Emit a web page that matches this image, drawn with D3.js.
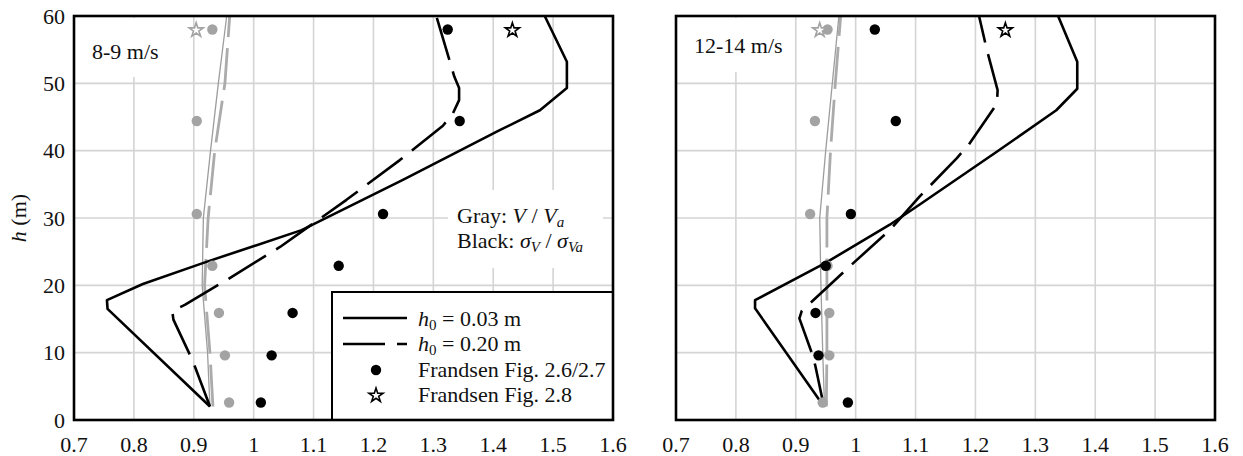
<!DOCTYPE html>
<html>
<head>
<meta charset="utf-8">
<script src="https://cdn.jsdelivr.net/npm/d3@7"></script>
<style>
  html, body { margin: 0; padding: 0; background: #fff; }
  svg { display: block; }
  text { font-family: "Liberation Serif", Tinos, "DejaVu Serif", serif; }
</style>
</head>
<body>
<svg id="chart" width="1243" height="456" font-family="Liberation Serif, Tinos, DejaVu Serif, serif"></svg>
<script>
// ---- axis ticks ----
const xTicks = [0.7, 0.8, 0.9, 1.0, 1.1, 1.2, 1.3, 1.4, 1.5, 1.6];
const xTickLabels = ["0.7", "0.8", "0.9", "1", "1.1", "1.2", "1.3", "1.4", "1.5", "1.6"];
const yTicks = [0, 10, 20, 30, 40, 50, 60];
const yTickLabels = ["0", "10", "20", "30", "40", "50", "60"];

// ---- Frandsen measurement heights (m) ----
const frandsenHeights = [2.6, 9.6, 15.9, 22.9, 30.6, 44.4, 58.0];
const frandsenStarHeight = 57.9;

// ---- 8-9 m/s ----
const lowFrandsenV = [0.959, 0.952, 0.942, 0.931, 0.905, 0.905, 0.931];
const lowFrandsenSigma = [1.012, 1.030, 1.065, 1.142, 1.216, 1.344, 1.324];
const lowStarV = 0.904;
const lowStarSigma = 1.432;

const lowSigmaH003_h = [2, 16.5, 17.8, 20.2, 23.3, 28.2, 35.7, 43.0, 46.0, 49.3, 53.2, 60];
const lowSigmaH003_v = [0.927, 0.756, 0.755, 0.815, 0.915, 1.080, 1.250, 1.410, 1.478, 1.523, 1.523, 1.486];
const lowSigmaH020_h = [2, 7.9, 9.6, 14.9, 16.2, 17.1, 20.8, 25.7, 32.7, 38.6, 43.7, 45.6, 47.5, 49.3, 51.0, 60];
const lowSigmaH020_v = [0.927, 0.902, 0.894, 0.866, 0.864, 0.885, 0.955, 1.044, 1.155, 1.244, 1.316, 1.333, 1.343, 1.343, 1.335, 1.305];
const lowMeanH003_h = [2, 10, 20, 30, 40, 50, 60];
const lowMeanH003_v = [0.927, 0.923, 0.914, 0.916, 0.928, 0.941, 0.955];
const lowMeanH020_h = [2, 10, 20, 30, 40, 50, 60];
const lowMeanH020_v = [0.932, 0.927, 0.918, 0.924, 0.935, 0.952, 0.960];

// ---- 12-14 m/s ----
const highFrandsenV = [0.945, 0.956, 0.956, 0.953, 0.924, 0.932, 0.953];
const highFrandsenSigma = [0.987, 0.938, 0.933, 0.950, 0.992, 1.067, 1.032];
const highStarV = 0.940;
const highStarSigma = 1.250;

const highSigmaH003_h = [2, 16.6, 17.8, 23.3, 29.0, 32.0, 39.8, 46.0, 49.2, 53.2, 60];
const highSigmaH003_v = [0.947, 0.832, 0.832, 0.949, 1.057, 1.107, 1.235, 1.335, 1.370, 1.370, 1.338];
const highSigmaH020_h = [2, 7.9, 9.4, 15.1, 16.2, 17.6, 23.3, 28.2, 33.2, 38.9, 40.8, 47.0, 49.0, 55.0, 60];
const highSigmaH020_v = [0.947, 0.933, 0.929, 0.906, 0.910, 0.927, 0.996, 1.057, 1.107, 1.169, 1.188, 1.236, 1.237, 1.219, 1.206];
const highMeanH003_h = [2, 10, 20, 30, 40, 50, 60];
const highMeanH003_v = [0.948, 0.945, 0.942, 0.940, 0.950, 0.961, 0.972];
const highMeanH020_h = [2, 10, 20, 30, 40, 50, 60];
const highMeanH020_v = [0.951, 0.952, 0.952, 0.952, 0.958, 0.966, 0.975];

// ---- legend ----
const legendLabels = ["0.03 m", "0.20 m", "Frandsen Fig. 2.6/2.7", "Frandsen Fig. 2.8"];

// ---- styling ----
const GRID = "#d4d4d4";
const GRAY_DOT = "#a3a3a3";
const GRAY_LINE = "#9d9d9d";
const GRAY_DASH = "#ababab";
const DASH = "44,12";
const FONT = 22;
const SERIF = "Liberation Serif, Tinos, DejaVu Serif, serif";

const pairs = (hs, vs) => hs.map((h, i) => ({ h, v: vs[i] }));

const panels = [
  {
    x0: 74, title: "8-9 m/s", titleBox: [76, 18, 96, 59], yLabels: true,
    meanSolid: pairs(lowMeanH003_h, lowMeanH003_v),
    meanDash: pairs(lowMeanH020_h, lowMeanH020_v),
    sigmaSolid: pairs(lowSigmaH003_h, lowSigmaH003_v),
    sigmaDash: pairs(lowSigmaH020_h, lowSigmaH020_v),
    fV: lowFrandsenV, fS: lowFrandsenSigma, starV: lowStarV, starS: lowStarSigma,
    note: true, legend: true
  },
  {
    x0: 676, title: "12-14 m/s", titleBox: [678, 18, 110, 54], yLabels: false,
    meanSolid: pairs(highMeanH003_h, highMeanH003_v),
    meanDash: pairs(highMeanH020_h, highMeanH020_v),
    sigmaSolid: pairs(highSigmaH003_h, highSigmaH003_v),
    sigmaDash: pairs(highSigmaH020_h, highSigmaH020_v),
    fV: highFrandsenV, fS: highFrandsenSigma, starV: highStarV, starS: highStarSigma,
    note: false, legend: false
  }
];

const W = 539, TOP = 16, BOTTOM = 420;
const svg = d3.select("#chart");
const star = d3.symbol().type(d3.symbolStar).size(62);

function label(g, xPos, yPos) {
  return g.append("text").attr("x", xPos).attr("y", yPos)
    .attr("font-family", SERIF).attr("font-size", FONT).attr("fill", "#111");
}

panels.forEach((p, pi) => {
  const x = d3.scaleLinear().domain([0.7, 1.6]).range([p.x0, p.x0 + W]);
  const y = d3.scaleLinear().domain([0, 60]).range([BOTTOM, TOP]);
  const g = svg.append("g");

  // grid
  g.selectAll(".vg").data(xTicks.slice(1, -1)).join("line")
    .attr("x1", d => x(d)).attr("x2", d => x(d)).attr("y1", TOP).attr("y2", BOTTOM)
    .attr("stroke", GRID).attr("stroke-width", 1.6);
  g.selectAll(".hg").data(yTicks.slice(1, -1)).join("line")
    .attr("x1", p.x0).attr("x2", p.x0 + W).attr("y1", d => y(d)).attr("y2", d => y(d))
    .attr("stroke", GRID).attr("stroke-width", 1.6);

  // title with white backing
  g.append("rect").attr("x", p.titleBox[0]).attr("y", p.titleBox[1])
    .attr("width", p.titleBox[2]).attr("height", p.titleBox[3]).attr("fill", "#fff");
  label(g, p.x0 + 18, pi === 0 ? 59 : 53).text(p.title);

  // note on which colour is which quantity
  if (p.note) {
    g.append("rect").attr("x", 448).attr("y", 190).attr("width", 155).attr("height", 78).attr("fill", "#fff");
    const t1 = label(g, 457, 223);
    t1.append("tspan").text("Gray: ");
    t1.append("tspan").attr("font-style", "italic").text("V");
    t1.append("tspan").text(" / ");
    t1.append("tspan").attr("font-style", "italic").text("V");
    t1.append("tspan").attr("font-style", "italic").attr("font-size", 15).attr("dy", 4).text("a");
    const t2 = label(g, 457, 248);
    t2.append("tspan").text("Black: ");
    t2.append("tspan").attr("font-style", "italic").text("σ");
    t2.append("tspan").attr("font-style", "italic").attr("font-size", 15).attr("dy", 4).text("V");
    t2.append("tspan").attr("dy", -4).text(" / ");
    t2.append("tspan").attr("font-style", "italic").text("σ");
    t2.append("tspan").attr("font-style", "italic").attr("font-size", 15).attr("dy", 4).text("Va");
  }

  const line = d3.line().x(d => x(d.v)).y(d => y(d.h));

  // wind speed ratio (gray)
  g.append("path").attr("d", line(p.meanDash)).attr("fill", "none")
    .attr("stroke", GRAY_DASH).attr("stroke-width", 2.8).attr("stroke-dasharray", "42,11");
  g.append("path").attr("d", line(p.meanSolid)).attr("fill", "none")
    .attr("stroke", GRAY_LINE).attr("stroke-width", 1.3);

  // standard deviation ratio (black)
  g.append("path").attr("d", line(p.sigmaDash)).attr("fill", "none")
    .attr("stroke", "#000").attr("stroke-width", 2.6).attr("stroke-dasharray", DASH)
    .attr("stroke-linejoin", "round");
  g.append("path").attr("d", line(p.sigmaSolid)).attr("fill", "none")
    .attr("stroke", "#000").attr("stroke-width", 2.6).attr("stroke-linejoin", "round");

  // Frandsen points
  g.selectAll(".gd").data(frandsenHeights).join("circle")
    .attr("cx", (d, i) => x(p.fV[i])).attr("cy", d => y(d)).attr("r", 5.2).attr("fill", GRAY_DOT);
  g.selectAll(".bd").data(frandsenHeights).join("circle")
    .attr("cx", (d, i) => x(p.fS[i])).attr("cy", d => y(d)).attr("r", 5.2).attr("fill", "#000");
  g.append("path").attr("d", star())
    .attr("transform", `translate(${x(p.starV)},${y(frandsenStarHeight)})`)
    .attr("fill", "#fff").attr("stroke", GRAY_DOT).attr("stroke-width", 1.6);
  g.append("path").attr("d", star())
    .attr("transform", `translate(${x(p.starS)},${y(frandsenStarHeight)})`)
    .attr("fill", "#fff").attr("stroke", "#000").attr("stroke-width", 1.6);

  // legend
  if (p.legend) {
    const lx = 332, ly = 292;
    g.append("rect").attr("x", lx).attr("y", ly).attr("width", p.x0 + W - lx).attr("height", BOTTOM - ly)
      .attr("fill", "#fff").attr("stroke", "#000").attr("stroke-width", 2);
    const rowY = [318, 344, 370, 395.5];
    const baseY = [325.5, 351, 376.5, 402];
    g.append("line").attr("x1", 343).attr("x2", 407).attr("y1", rowY[0]).attr("y2", rowY[0])
      .attr("stroke", "#000").attr("stroke-width", 2.6);
    g.append("line").attr("x1", 343).attr("x2", 407).attr("y1", rowY[1]).attr("y2", rowY[1])
      .attr("stroke", "#000").attr("stroke-width", 2.6).attr("stroke-dasharray", "42,12");
    g.append("circle").attr("cx", 376).attr("cy", rowY[2]).attr("r", 5.2).attr("fill", "#000");
    g.append("path").attr("d", star()).attr("transform", `translate(376,${rowY[3]})`)
      .attr("fill", "#fff").attr("stroke", "#000").attr("stroke-width", 1.6);
    legendLabels.forEach((lab, i) => {
      const t = label(g, 418, baseY[i]);
      if (i < 2) {
        t.append("tspan").attr("font-style", "italic").text("h");
        t.append("tspan").attr("font-size", 15).attr("dy", 4).text("0");
        t.append("tspan").attr("dy", -4).text(" = " + lab);
      } else {
        t.text(lab);
      }
    });
  }

  // frame
  g.append("rect").attr("x", p.x0).attr("y", TOP).attr("width", W).attr("height", BOTTOM - TOP)
    .attr("fill", "none").attr("stroke", "#000").attr("stroke-width", 2.6);

  // tick labels
  g.selectAll(".xl").data(xTicks).join("text")
    .attr("x", d => x(d)).attr("y", 452).attr("text-anchor", "middle")
    .attr("font-family", SERIF).attr("font-size", FONT).attr("fill", "#111")
    .text((d, i) => xTickLabels[i]);
  if (p.yLabels) {
    g.selectAll(".yl").data(yTicks).join("text")
      .attr("x", 65).attr("y", d => y(d) + 7.5).attr("text-anchor", "end")
      .attr("font-family", SERIF).attr("font-size", FONT).attr("fill", "#111")
      .text((d, i) => yTickLabels[i]);
    const yl = g.append("text").attr("transform", "translate(26,218) rotate(-90)")
      .attr("text-anchor", "middle").attr("font-family", SERIF).attr("font-size", FONT).attr("fill", "#111");
    yl.append("tspan").attr("font-style", "italic").text("h");
    yl.append("tspan").text(" (m)");
  }
});
</script>
</body>
</html>
